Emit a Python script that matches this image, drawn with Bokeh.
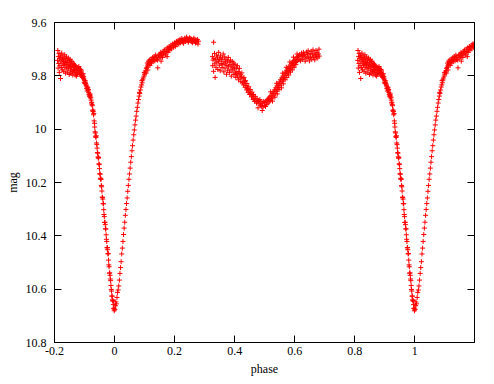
import numpy as np
from bokeh.plotting import figure
from bokeh.models import Range1d, LinearAxis, FixedTicker
from bokeh.embed import file_html
from bokeh.resources import INLINE

# ---- data (phase in [0,1), magnitude) ----
# primary eclipse ingress (steep, dense branch)
phase_in = [0.880,0.882,0.884,0.886,0.888,0.890,0.892,0.894,0.896,0.898,
            0.900,0.902,0.904,0.906,0.908,0.910,0.912,0.914,0.916,0.918,
            0.920,0.922,0.924,0.926,0.928,0.930,0.932,0.934,0.936,0.938,
            0.940,0.942,0.944,0.946,0.948,0.950,0.952,0.954,0.956,0.958,
            0.960,0.962,0.964,0.966,0.968,0.970,0.972,0.974,0.976,0.978,
            0.980,0.982,0.984,0.986,0.988,0.990,0.992,0.994,0.996,0.998]
mag_in = [9.772,9.781,9.776,9.788,9.785,9.794,9.798,9.797,9.808,9.812,
          9.818,9.825,9.829,9.838,9.842,9.849,9.854,9.862,9.869,9.874,
          9.883,9.891,9.899,9.912,9.928,9.946,9.969,9.992,10.014,10.031,
          10.052,10.071,10.090,10.109,10.130,10.148,10.169,10.188,10.211,10.232,
          10.256,10.279,10.302,10.328,10.349,10.374,10.396,10.421,10.444,10.468,
          10.491,10.516,10.539,10.562,10.586,10.607,10.626,10.643,10.658,10.671]
phase_in2 = [0.881,0.885,0.889,0.893,0.897,0.901,0.905,0.909,0.913,0.917,
             0.921,0.925,0.929,0.933,0.937,0.941,0.945,0.949,0.953,0.957,
             0.961,0.965,0.969,0.973,0.977,0.981,0.985,0.989,0.993,0.997,0.999]
mag_in2 = [9.765,9.795,9.779,9.806,9.803,9.829,9.834,9.857,9.851,9.878,
           9.880,9.908,9.934,9.978,10.027,10.058,10.104,10.133,10.184,10.216,
           10.262,10.320,10.358,10.413,10.452,10.509,10.548,10.601,10.640,10.673,10.681]
phase_in3 = [0.883,0.887,0.891,0.895,0.899,0.903,0.907,0.911,0.915,0.919,
             0.923,0.927,0.931,0.935,0.939,0.943,0.947,0.951,0.955,0.959,
             0.963,0.967,0.971,0.975,0.979,0.983,0.987,0.991,0.995]
mag_in3 = [9.790,9.776,9.802,9.792,9.824,9.819,9.848,9.843,9.871,9.868,
           9.902,9.931,9.941,10.010,10.025,10.088,10.106,10.167,10.187,10.255,
           10.280,10.350,10.374,10.445,10.466,10.540,10.568,10.626,10.645]

# primary eclipse egress (sparser branch)
phase_eg = [0.001,0.003,0.004,0.006,0.008,0.010,0.012,0.014,0.016,0.018,
            0.020,0.022,0.024,0.026,0.028,0.030,0.032,0.034,0.036,0.038,
            0.040,0.042,0.044,0.046,0.048,0.050,0.052,0.054,0.056,0.058,
            0.060,0.062,0.064,0.066,0.068,0.070,0.072,0.074,0.076,0.078,
            0.080,0.082,0.084,0.086,0.088,0.090,0.092,0.094,0.096,0.098,
            0.100,0.102,0.104,0.106,0.108,0.110,0.083,0.091,0.099,0.105,0.109]
mag_eg = [10.676,10.662,10.648,10.655,10.631,10.612,10.603,10.588,10.566,10.541,
          10.519,10.497,10.468,10.446,10.421,10.395,10.371,10.349,10.323,10.301,
          10.279,10.258,10.233,10.211,10.188,10.168,10.146,10.124,10.103,10.081,
          10.062,10.041,10.021,10.003,9.984,9.966,9.951,9.933,9.918,9.902,
          9.889,9.876,9.866,9.853,9.842,9.834,9.826,9.815,9.808,9.801,
          9.794,9.786,9.781,9.772,9.768,9.763,9.862,9.818,9.788,9.790,9.752]

# maximum after primary eclipse
phase_b = [0.111,0.112,0.113,0.115,0.117,0.118,0.120,0.122,0.123,0.125,
           0.127,0.128,0.130,0.132,0.134,0.135,0.137,0.139,0.141,0.143,
           0.144,0.146,0.148,0.150,0.152,0.154,0.155,0.156,0.158,0.160,
           0.162,0.164,0.166,0.168,0.170,0.172,0.174,0.175,0.176,0.178,
           0.180,0.182,0.184,0.186,0.188,0.190,0.192,0.194,0.196,0.198,
           0.200,0.202,0.204,0.206,0.208,0.210,0.212,0.214,0.216,0.218,
           0.220,0.222,0.224,0.226,0.228,0.230,0.232,0.234,0.236,0.238,
           0.240,0.242,0.244,0.246,0.248,0.250,0.252,0.254,0.256,0.258,
           0.260,0.262,0.264,0.266,0.268,0.270,0.272,0.274,0.276,0.278,0.280]
mag_b = [9.778,9.758,9.745,9.752,9.740,9.761,9.748,9.737,9.752,9.743,
         9.731,9.747,9.738,9.728,9.744,9.733,9.722,9.739,9.729,9.741,
         9.770,9.724,9.733,9.719,9.730,9.712,9.745,9.725,9.716,9.731,
         9.708,9.719,9.703,9.714,9.722,9.700,9.709,9.728,9.695,9.712,
         9.701,9.690,9.704,9.694,9.685,9.699,9.688,9.680,9.693,9.684,
         9.676,9.690,9.679,9.671,9.684,9.674,9.667,9.681,9.672,9.663,
         9.676,9.668,9.660,9.673,9.664,9.678,9.667,9.659,9.671,9.663,
         9.655,9.669,9.661,9.674,9.664,9.657,9.668,9.660,9.672,9.664,
         9.676,9.666,9.659,9.671,9.663,9.677,9.667,9.674,9.664,9.681,9.670]

# secondary eclipse, descending side
phase_c1 = [0.326,0.327,0.328,0.330,0.330,0.331,0.333,0.334,0.335,0.337,
            0.338,0.340,0.341,0.343,0.344,0.346,0.347,0.349,0.350,0.352,
            0.353,0.355,0.356,0.358,0.359,0.361,0.362,0.364,0.365,0.367,
            0.368,0.370,0.371,0.373,0.374,0.376,0.377,0.379,0.380,0.382,
            0.383,0.385,0.386,0.388,0.389,0.391,0.392,0.394,0.395,0.397,
            0.398,0.400,0.401,0.403,0.404,0.406,0.407,0.409,0.410,0.412,
            0.413,0.415,0.416,0.418,0.420,0.421,0.423,0.424,0.426,0.428,
            0.430,0.431,0.433,0.435,0.436,0.438,0.440,0.441,0.443,0.445,
            0.447,0.448,0.450,0.452,0.454,0.456,0.458,0.460,0.462,0.463,
            0.465,0.467,0.469,0.471,0.473,0.475,0.477,0.478]
mag_c1 = [9.728,9.762,9.741,9.674,9.783,9.735,9.716,9.755,9.806,9.738,
          9.768,9.722,9.749,9.730,9.776,9.745,9.712,9.760,9.737,9.781,
          9.725,9.754,9.740,9.769,9.733,9.758,9.718,9.785,9.747,9.729,
          9.771,9.752,9.738,9.794,9.761,9.744,9.779,9.731,9.766,9.749,
          9.787,9.758,9.741,9.775,9.801,9.763,9.746,9.782,9.768,9.752,
          9.795,9.774,9.757,9.789,9.806,9.771,9.792,9.762,9.801,9.784,
          9.815,9.790,9.772,9.808,9.796,9.822,9.804,9.789,9.826,9.811,
          9.834,9.806,9.822,9.843,9.818,9.836,9.853,9.829,9.847,9.862,
          9.841,9.857,9.870,9.851,9.866,9.879,9.861,9.876,9.889,9.870,
          9.884,9.896,9.877,9.891,9.902,9.886,9.897,9.920]

# secondary eclipse, minimum and rising side
phase_c2 = [0.480,0.482,0.484,0.486,0.488,0.490,0.492,0.493,0.495,0.497,
            0.499,0.501,0.503,0.505,0.507,0.509,0.511,0.513,0.515,0.517,
            0.519,0.521,0.523,0.525,0.527,0.529,0.531,0.533,0.535,0.537,
            0.539,0.541,0.543,0.545,0.547,0.549,0.551,0.553,0.555,0.557,
            0.559,0.561,0.563,0.565,0.567,0.569,0.571,0.573,0.575,0.577,
            0.579,0.581,0.583,0.585,0.587,0.589,0.591,0.593,0.595,0.597,
            0.599,0.601,0.603,0.605,0.607,0.609,0.611,0.613,0.615,0.617,
            0.619,0.621,0.623,0.625,0.627,0.629,0.631,0.633,0.635,0.637,
            0.639,0.641,0.643,0.645,0.647,0.649,0.651,0.653,0.655,0.657,
            0.659,0.661,0.663,0.665,0.667,0.669,0.671,0.673,0.675,0.677,
            0.679,0.681,0.682]
mag_c2 = [9.893,9.905,9.889,9.910,9.898,9.914,9.930,9.902,9.917,9.896,
          9.911,9.900,9.915,9.894,9.907,9.889,9.902,9.884,9.897,9.879,
          9.892,9.873,9.886,9.866,9.879,9.860,9.872,9.853,9.866,9.845,
          9.858,9.838,9.850,9.831,9.843,9.823,9.836,9.815,9.828,9.808,
          9.820,9.801,9.812,9.793,9.806,9.786,9.798,9.779,9.791,9.772,
          9.785,9.766,9.778,9.760,9.772,9.754,9.767,9.749,9.761,9.743,
          9.756,9.738,9.750,9.733,9.746,9.729,9.741,9.725,9.737,9.720,
          9.744,9.728,9.715,9.739,9.724,9.712,9.733,9.720,9.745,9.726,
          9.711,9.736,9.719,9.706,9.731,9.744,9.716,9.729,9.708,9.738,
          9.721,9.703,9.732,9.715,9.740,9.722,9.705,9.728,9.712,9.733,
          9.718,9.700,9.726]
phase_c3 = [0.520,0.526,0.534,0.540,0.542,0.548,0.556,0.560,0.562,0.568,
            0.572,0.574,0.580,0.584,0.586,0.592,0.596,0.598,0.604,0.608]
mag_c3 = [9.860,9.895,9.880,9.828,9.868,9.852,9.845,9.790,9.830,9.815,
          9.768,9.806,9.797,9.748,9.786,9.778,9.730,9.768,9.758,9.718]

# maximum before primary eclipse
phase_d = [0.810,0.811,0.812,0.813,0.814,0.815,0.816,0.817,0.818,0.819,
           0.820,0.821,0.822,0.823,0.824,0.825,0.826,0.827,0.828,0.829,
           0.830,0.831,0.832,0.833,0.834,0.835,0.836,0.837,0.838,0.839,
           0.840,0.841,0.842,0.843,0.844,0.845,0.846,0.847,0.848,0.849,
           0.850,0.851,0.852,0.853,0.854,0.855,0.856,0.857,0.858,0.859,
           0.860,0.861,0.862,0.863,0.864,0.865,0.866,0.867,0.868,0.869,
           0.870,0.871,0.872,0.873,0.874,0.875,0.876,0.877,0.878,0.879]
mag_d = [9.742,9.705,9.771,9.728,9.754,9.716,9.787,9.736,9.762,9.722,
         9.810,9.745,9.731,9.769,9.715,9.752,9.778,9.738,9.726,9.760,
         9.744,9.783,9.733,9.756,9.721,9.768,9.747,9.790,9.736,9.758,
         9.729,9.774,9.750,9.741,9.786,9.762,9.733,9.771,9.752,9.795,
         9.744,9.765,9.738,9.779,9.757,9.791,9.748,9.770,9.745,9.784,
         9.762,9.797,9.753,9.776,9.766,9.788,9.757,9.781,9.769,9.797,
         9.762,9.786,9.774,9.801,9.768,9.790,9.779,9.795,9.772,9.788]

x_ticks = [-0.2, 0, 0.2, 0.4, 0.6, 0.8, 1]
x_labels = ["-0.2", "0", "0.2", "0.4", "0.6", "0.8", "1"]
y_ticks = [9.6, 9.8, 10, 10.2, 10.4, 10.6, 10.8]
y_labels = ["9.6", "9.8", "10", "10.2", "10.4", "10.6", "10.8"]

# ---- assemble: phase-folded light curve shown from -0.2 to 1.2 ----
phase = np.concatenate([phase_in, phase_in2, phase_in3, phase_eg, phase_b,
                        phase_c1, phase_c2, phase_c3, phase_d])
mag = np.concatenate([mag_in, mag_in2, mag_in3, mag_eg, mag_b,
                      mag_c1, mag_c2, mag_c3, mag_d])
ph_all = np.concatenate([phase - 1.0, phase, phase + 1.0])
mg_all = np.concatenate([mag, mag, mag])
keep = (ph_all >= -0.2) & (ph_all <= 1.2)
ph_all = ph_all[keep]
mg_all = mg_all[keep]

FONT = "Liberation Serif"

p = figure(width=490, height=380, output_backend="svg", toolbar_location=None,
           x_range=Range1d(-0.2, 1.199), y_range=Range1d(10.8, 9.6),
           min_border_left=54, min_border_right=16,
           min_border_top=22, min_border_bottom=38,
           x_axis_label="phase", y_axis_label="mag")
p.background_fill_color = "white"
p.border_fill_color = "white"
p.outline_line_color = "black"
p.outline_line_width = 1
p.xgrid.visible = False
p.ygrid.visible = False

p.scatter(ph_all, mg_all, marker="cross", size=5,
          color="#ff0000", line_width=1)

def style(ax):
    ax.major_tick_in = 7
    ax.major_tick_out = 0
    ax.minor_tick_line_color = None
    ax.axis_line_color = "black"
    ax.major_tick_line_color = "black"
    ax.major_label_text_font = FONT
    ax.major_label_text_font_size = "12px"
    ax.major_label_text_color = "black"
    ax.axis_label_text_font = FONT
    ax.axis_label_text_font_size = "12px"
    ax.axis_label_text_font_style = "normal"
    ax.axis_label_text_color = "black"

xa = p.xaxis[0]
xa.ticker = FixedTicker(ticks=x_ticks, minor_ticks=[])
xa.major_label_overrides = dict(zip(x_ticks, x_labels))
style(xa)
xa.major_label_standoff = 4
xa.axis_label_standoff = 4

ya = p.yaxis[0]
ya.ticker = FixedTicker(ticks=y_ticks, minor_ticks=[])
ya.major_label_overrides = dict(zip(y_ticks, y_labels))
style(ya)
ya.major_label_standoff = 8
ya.axis_label_standoff = 3

top = LinearAxis(ticker=FixedTicker(ticks=x_ticks, minor_ticks=[]))
style(top)
top.major_label_overrides = {t: "" for t in x_ticks}
top.major_label_text_font_size = "0px"
top.major_label_standoff = 0
p.add_layout(top, "above")

right = LinearAxis(ticker=FixedTicker(ticks=y_ticks, minor_ticks=[]))
style(right)
right.major_label_overrides = {t: "" for t in y_ticks}
right.major_label_text_font_size = "0px"
right.major_label_standoff = 0
p.add_layout(right, "right")

open("out.html", "w").write(file_html(p, INLINE))
